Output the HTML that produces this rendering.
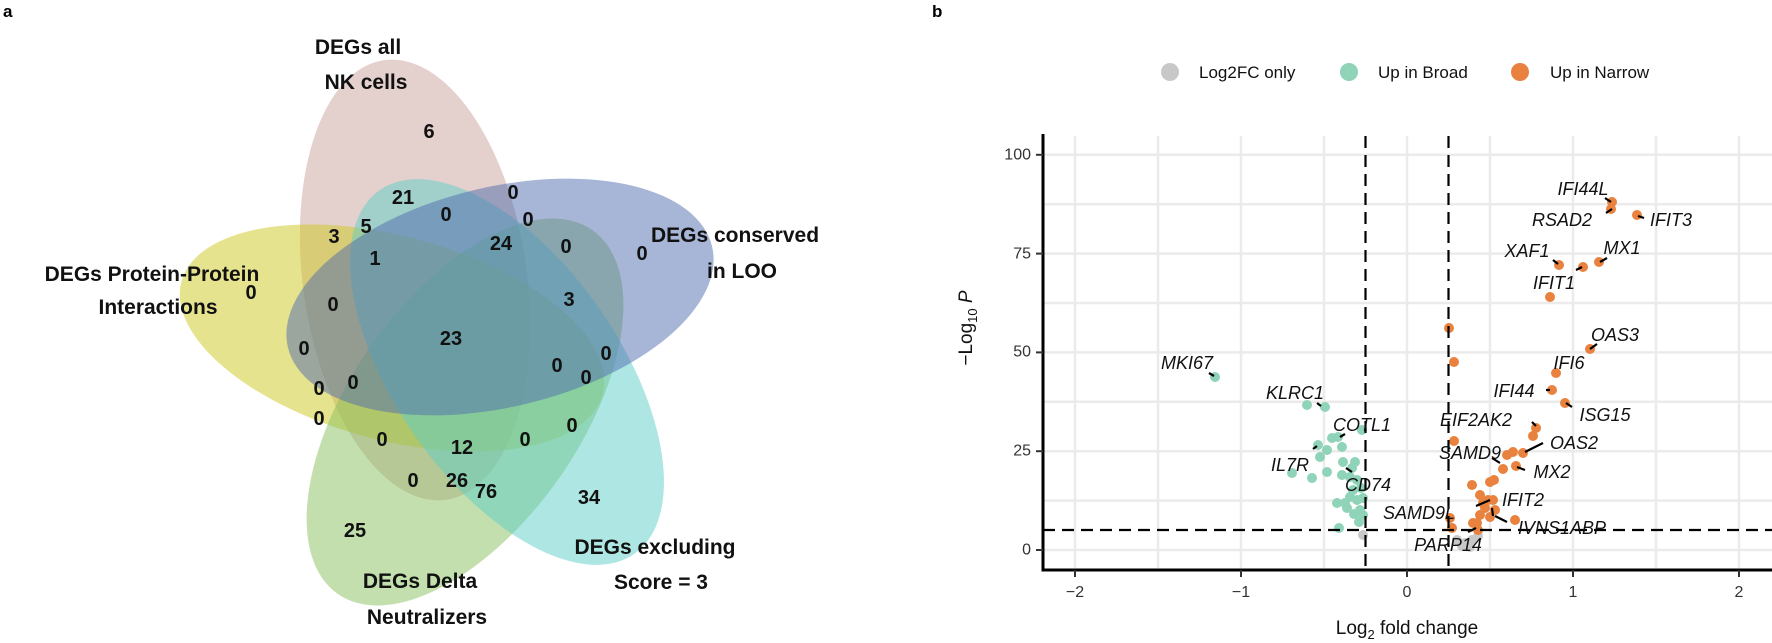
<!DOCTYPE html>
<html><head><meta charset="utf-8"><style>
html,body{margin:0;padding:0;background:#fff;}
svg{display:block;}
.vl{font-family:"Liberation Sans",sans-serif;font-weight:bold;font-size:21px;fill:#111;}
.vn{font-family:"Liberation Sans",sans-serif;font-weight:bold;font-size:20px;fill:#111;text-anchor:middle;dominant-baseline:central;}
.gl{font-family:"Liberation Sans",sans-serif;font-style:italic;font-size:18px;fill:#111;text-anchor:middle;dominant-baseline:central;}
.tk{font-family:"Liberation Sans",sans-serif;font-size:16px;fill:#333;}
ellipse{fill-opacity:0.5;}
</style></head><body>
<svg width="1772" height="643" viewBox="0 0 1772 643" xmlns="http://www.w3.org/2000/svg">
<text x="3" y="17" font-family="Liberation Sans,sans-serif" font-weight="bold" font-size="17">a</text>
<text x="932" y="17" font-family="Liberation Sans,sans-serif" font-weight="bold" font-size="17">b</text>

<!-- Venn -->
<g>
<ellipse cx="415" cy="280" rx="112" ry="222" fill="#c9a199" transform="rotate(-8 415 280)"/>
<ellipse cx="392" cy="338" rx="218" ry="102" fill="#cdc71f" transform="rotate(15 392 338)"/>
<ellipse cx="465" cy="412" rx="115" ry="222" fill="#87bf5d" transform="rotate(35 465 412)"/>
<ellipse cx="507" cy="372" rx="112" ry="222" fill="#5dcdc7" transform="rotate(-35 507 372)"/>
<ellipse cx="500" cy="297" rx="218" ry="110" fill="#4f6bad" transform="rotate(-13.4 500 297)"/>
</g>
<text class="vl" x="358" y="54" text-anchor="middle">DEGs all</text>
<text class="vl" x="366" y="89" text-anchor="middle">NK cells</text>
<text class="vl" x="152" y="281" text-anchor="middle">DEGs Protein-Protein</text>
<text class="vl" x="158" y="314" text-anchor="middle">Interactions</text>
<text class="vl" x="735" y="242" text-anchor="middle">DEGs conserved</text>
<text class="vl" x="742" y="278" text-anchor="middle">in LOO</text>
<text class="vl" x="655" y="554" text-anchor="middle">DEGs excluding</text>
<text class="vl" x="661" y="589" text-anchor="middle">Score = 3</text>
<text class="vl" x="420" y="588" text-anchor="middle">DEGs Delta</text>
<text class="vl" x="427" y="624" text-anchor="middle">Neutralizers</text>
<g class="vn">
<text x="429" y="132">6</text>
<text x="403" y="198">21</text><text x="513" y="193">0</text><text x="446" y="215">0</text><text x="528" y="220">0</text>
<text x="366" y="227">5</text><text x="334" y="237">3</text><text x="501" y="244">24</text><text x="566" y="247">0</text>
<text x="642" y="254">0</text><text x="375" y="259">1</text><text x="251" y="293">0</text><text x="333" y="305">0</text>
<text x="569" y="300">3</text><text x="451" y="339">23</text><text x="304" y="349">0</text><text x="606" y="354">0</text>
<text x="557" y="366">0</text><text x="586" y="378">0</text><text x="353" y="383">0</text><text x="319" y="389">0</text>
<text x="319" y="419">0</text><text x="572" y="426">0</text><text x="382" y="440">0</text><text x="525" y="440">0</text>
<text x="462" y="448">12</text><text x="413" y="481">0</text><text x="457" y="481">26</text><text x="486" y="492">76</text>
<text x="589" y="498">34</text><text x="355" y="531">25</text>
</g>

<!-- Volcano grid -->
<g stroke="#ebebeb" stroke-width="2.5">
<line x1="1075" y1="136" x2="1075" y2="568"/><line x1="1158" y1="136" x2="1158" y2="568"/><line x1="1241" y1="136" x2="1241" y2="568"/><line x1="1324" y1="136" x2="1324" y2="568"/><line x1="1407" y1="136" x2="1407" y2="568"/><line x1="1490" y1="136" x2="1490" y2="568"/><line x1="1573" y1="136" x2="1573" y2="568"/><line x1="1656" y1="136" x2="1656" y2="568"/><line x1="1739" y1="136" x2="1739" y2="568"/>
<line x1="1043" y1="550" x2="1772" y2="550"/><line x1="1043" y1="500.6" x2="1772" y2="500.6"/><line x1="1043" y1="451.2" x2="1772" y2="451.2"/><line x1="1043" y1="401.8" x2="1772" y2="401.8"/><line x1="1043" y1="352.4" x2="1772" y2="352.4"/><line x1="1043" y1="303" x2="1772" y2="303"/><line x1="1043" y1="253.6" x2="1772" y2="253.6"/><line x1="1043" y1="204.2" x2="1772" y2="204.2"/><line x1="1043" y1="154.8" x2="1772" y2="154.8"/>
</g>
<!-- points -->
<g fill="#c8c8c8">
<circle cx="1363" cy="535" r="5"/><circle cx="1457" cy="540" r="5"/><circle cx="1465" cy="543" r="5"/><circle cx="1472" cy="540" r="5"/><circle cx="1478" cy="536" r="5"/><circle cx="1462" cy="546" r="5"/><circle cx="1470" cy="547" r="5"/>
</g>
<g fill="#8fd3b8">
<circle cx="1215" cy="377" r="5"/><circle cx="1307" cy="405" r="5"/><circle cx="1325" cy="407" r="5"/><circle cx="1362" cy="430" r="5"/>
<circle cx="1332" cy="438" r="5"/><circle cx="1338" cy="437" r="5"/><circle cx="1342" cy="447" r="5"/><circle cx="1318" cy="445" r="5"/><circle cx="1327" cy="450" r="5"/><circle cx="1320" cy="457" r="5"/><circle cx="1343" cy="462" r="5"/><circle cx="1355" cy="462" r="5"/><circle cx="1352" cy="468" r="5"/><circle cx="1327" cy="472" r="5"/><circle cx="1292" cy="473" r="5"/><circle cx="1312" cy="478" r="5"/><circle cx="1342" cy="475" r="5"/><circle cx="1350" cy="477" r="5"/><circle cx="1357" cy="480" r="5"/><circle cx="1350" cy="497" r="5"/><circle cx="1357" cy="500" r="5"/><circle cx="1363" cy="498" r="5"/><circle cx="1337" cy="503" r="5"/><circle cx="1347" cy="508" r="5"/><circle cx="1360" cy="510" r="5"/><circle cx="1339" cy="528" r="5"/><circle cx="1359" cy="522" r="5"/><circle cx="1363" cy="515" r="5"/><circle cx="1345" cy="503" r="5"/><circle cx="1354" cy="514" r="5"/><circle cx="1353" cy="490" r="5"/><circle cx="1361" cy="488" r="5"/>
</g>
<g fill="#e8823e">
<circle cx="1612" cy="202" r="5"/><circle cx="1611" cy="209" r="5"/><circle cx="1637" cy="215" r="5"/><circle cx="1559" cy="265" r="5"/><circle cx="1583" cy="267" r="5"/><circle cx="1599" cy="262" r="5"/><circle cx="1550" cy="297" r="5"/><circle cx="1449" cy="328" r="5"/><circle cx="1454" cy="362" r="5"/><circle cx="1590" cy="349" r="5"/><circle cx="1556" cy="373" r="5"/><circle cx="1552" cy="390" r="5"/><circle cx="1565" cy="403" r="5"/><circle cx="1536" cy="428" r="5"/><circle cx="1533" cy="436" r="5"/><circle cx="1454" cy="441" r="5"/><circle cx="1513" cy="452" r="5"/><circle cx="1507" cy="455" r="5"/><circle cx="1523" cy="453" r="5"/><circle cx="1516" cy="466" r="5"/><circle cx="1503" cy="469" r="5"/>
<circle cx="1472" cy="485" r="5"/><circle cx="1490" cy="482" r="5"/><circle cx="1494" cy="480" r="5"/><circle cx="1480" cy="495" r="5"/><circle cx="1488" cy="500" r="5"/><circle cx="1493" cy="500" r="5"/><circle cx="1485" cy="508" r="5"/><circle cx="1490" cy="517" r="5"/><circle cx="1480" cy="515" r="5"/><circle cx="1477" cy="523" r="5"/><circle cx="1473" cy="523" r="5"/><circle cx="1515" cy="520" r="5"/><circle cx="1450" cy="518" r="5"/><circle cx="1452" cy="528" r="5"/><circle cx="1478" cy="530" r="5"/><circle cx="1495" cy="510" r="5"/><circle cx="1483" cy="503" r="5"/>
</g>
<!-- connectors -->
<g stroke="#000" stroke-width="2.2">
<line x1="1605" y1="198" x2="1611" y2="202"/><line x1="1612" y1="209" x2="1606" y2="213"/><line x1="1638" y1="216" x2="1644" y2="218"/><line x1="1553" y1="260" x2="1558" y2="264"/><line x1="1576" y1="270" x2="1582" y2="267"/><line x1="1600" y1="262" x2="1607" y2="258"/><line x1="1590" y1="349" x2="1597" y2="344"/><line x1="1546" y1="390" x2="1550" y2="390"/><line x1="1566" y1="403" x2="1572" y2="407"/><line x1="1532" y1="422" x2="1536" y2="426"/><line x1="1525" y1="452" x2="1543" y2="443"/><line x1="1500" y1="463" x2="1492" y2="458"/><line x1="1517" y1="467" x2="1525" y2="470"/><line x1="1490" y1="500" x2="1476" y2="506"/><line x1="1492" y1="508" x2="1493" y2="516"/><line x1="1495" y1="516" x2="1507" y2="522"/><line x1="1468" y1="532" x2="1476" y2="528"/><line x1="1214" y1="376" x2="1209" y2="373"/><line x1="1321" y1="406" x2="1317" y2="403"/><line x1="1340" y1="437" x2="1345" y2="434"/><line x1="1317" y1="446" x2="1313" y2="449"/><line x1="1346" y1="468" x2="1352" y2="472"/></g>
<!-- dashed lines -->
<g stroke="#000" stroke-width="2.2" stroke-dasharray="12,7">
<line x1="1365.5" y1="136" x2="1365.5" y2="568"/><line x1="1448.5" y1="136" x2="1448.5" y2="568"/><line x1="1043" y1="530" x2="1772" y2="530"/>
</g>
<!-- gene labels -->
<g class="gl">
<text x="1583" y="189">IFI44L</text><text x="1562" y="220">RSAD2</text><text x="1671" y="220">IFIT3</text><text x="1527" y="251">XAF1</text><text x="1622" y="248">MX1</text><text x="1554" y="283">IFIT1</text><text x="1615" y="335">OAS3</text><text x="1569" y="363">IFI6</text><text x="1514" y="391">IFI44</text><text x="1605" y="415">ISG15</text><text x="1476" y="420">EIF2AK2</text><text x="1574" y="443">OAS2</text><text x="1470" y="453">SAMD9</text><text x="1552" y="472">MX2</text><text x="1523" y="500">IFIT2</text><text x="1419" y="513">SAMD9L</text><text x="1562" y="528">IVNS1ABP</text><text x="1448" y="545">PARP14</text>
<text x="1187" y="363">MKI67</text><text x="1295" y="393">KLRC1</text><text x="1362" y="425">COTL1</text><text x="1290" y="465">IL7R</text><text x="1368" y="485">CD74</text>
</g>
<!-- axes -->
<g stroke="#000" stroke-width="3">
<line x1="1043" y1="134" x2="1043" y2="570"/><line x1="1041.5" y1="570" x2="1772" y2="570"/>
</g>
<g stroke="#333" stroke-width="2">
<line x1="1036" y1="550" x2="1043" y2="550"/><line x1="1036" y1="451.2" x2="1043" y2="451.2"/><line x1="1036" y1="352.4" x2="1043" y2="352.4"/><line x1="1036" y1="253.6" x2="1043" y2="253.6"/><line x1="1036" y1="154.8" x2="1043" y2="154.8"/>
<line x1="1075" y1="570" x2="1075" y2="577"/><line x1="1241" y1="570" x2="1241" y2="577"/><line x1="1407" y1="570" x2="1407" y2="577"/><line x1="1573" y1="570" x2="1573" y2="577"/><line x1="1739" y1="570" x2="1739" y2="577"/>
</g>
<g class="tk" text-anchor="end" dominant-baseline="central">
<text x="1031" y="550">0</text><text x="1031" y="451">25</text><text x="1031" y="352">50</text><text x="1031" y="254">75</text><text x="1031" y="155">100</text>
</g>
<g class="tk" text-anchor="middle">
<text x="1075" y="597">−2</text><text x="1241" y="597">−1</text><text x="1407" y="597">0</text><text x="1573" y="597">1</text><text x="1739" y="597">2</text>
</g>
<text x="1407" y="634" text-anchor="middle" font-family="Liberation Sans,sans-serif" font-size="19" fill="#111">Log<tspan font-size="13" dy="5">2</tspan><tspan dy="-5"> fold change</tspan></text>
<text transform="translate(972 328) rotate(-90)" text-anchor="middle" font-family="Liberation Sans,sans-serif" font-size="19" fill="#111">−Log<tspan font-size="13" dy="5">10</tspan><tspan dy="-5" font-style="italic"> P</tspan></text>
<!-- legend -->
<circle cx="1170" cy="72" r="9" fill="#c8c8c8"/><text x="1199" y="78" font-family="Liberation Sans,sans-serif" font-size="17" fill="#111">Log2FC only</text>
<circle cx="1349" cy="72" r="9" fill="#8fd3b8"/><text x="1378" y="78" font-family="Liberation Sans,sans-serif" font-size="17" fill="#111">Up in Broad</text>
<circle cx="1520" cy="72" r="9" fill="#e8823e"/><text x="1550" y="78" font-family="Liberation Sans,sans-serif" font-size="17" fill="#111">Up in Narrow</text>
</svg>
</body></html>
